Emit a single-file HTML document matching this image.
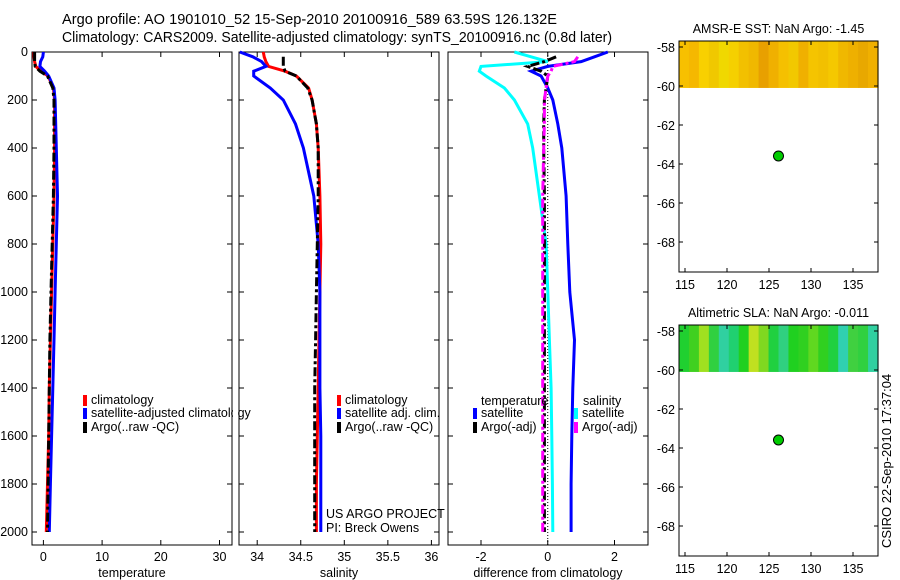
<!DOCTYPE html>
<html><head><meta charset="utf-8"><style>
body{margin:0;background:#fff}
svg{display:block;font-family:"Liberation Sans",sans-serif}
</style></head><body>
<svg id="c" width="900" height="580" viewBox="0 0 900 580">
<text x="62" y="24" font-size="14.3" textLength="495" lengthAdjust="spacingAndGlyphs">Argo profile: AO 1901010_52 15-Sep-2010 20100916_589 63.59S 126.132E</text>
<text x="62" y="42" font-size="14.3" textLength="550" lengthAdjust="spacingAndGlyphs">Climatology: CARS2009. Satellite-adjusted climatology: synTS_20100916.nc (0.8d later)</text>
<g id="plots"></g>
<text transform="translate(891,548) rotate(-90)" font-size="13">CSIRO 22-Sep-2010 17:37:04</text>
</svg>
<script>
// ---- data ----
const depths = [0,20,40,60,80,100,150,200,300,400,600,800,1000,1200,1400,1600,1800,2000];
const tempClim = [-1.6,-1.6,-1.5,-1.3,-0.4,0.8,1.7,1.9,1.9,1.9,1.8,1.6,1.4,1.2,1.0,0.9,0.7,0.5];
const tempSat  = [0.0,-0.1,-0.5,-0.6,0.2,0.9,1.8,2.0,2.1,2.2,2.4,2.2,2.0,1.8,1.6,1.4,1.2,1.0];
const tempArgo = [-1.5,-1.5,-1.5,-1.4,-0.6,0.7,1.6,1.8,1.8,1.8,1.7,1.5,1.3,1.1,1.0,0.9,0.8,0.7];
const salClim  = [34.07,34.08,34.1,34.13,34.32,34.45,34.59,34.63,34.68,34.7,34.72,34.73,34.72,34.71,34.7,34.69,34.68,34.68];
const salSat   = [33.8,33.95,34.05,34.1,33.96,33.96,34.15,34.3,34.44,34.53,34.65,34.7,34.72,34.72,34.72,34.73,34.73,34.73];
const salArgo  = [null,34.3,34.3,34.3,34.32,34.45,34.58,34.63,34.68,34.7,34.7,34.69,34.68,34.67,34.66,34.66,34.66,34.66];
const dTempSat = [1.8,1.4,1.0,0.0,-0.5,-0.2,0.0,0.15,0.3,0.42,0.55,0.6,0.66,0.8,0.75,0.72,0.7,0.7];
const dTempArgo= [null,0.25,-0.1,-0.6,-0.2,0.0,-0.05,-0.1,-0.12,-0.12,-0.1,-0.1,-0.1,-0.1,-0.1,-0.1,-0.1,-0.1];
const dSalSat  = [-1.0,-0.5,0.0,-2.0,-2.05,-1.85,-1.3,-1.0,-0.6,-0.45,-0.25,-0.05,0.0,0.05,0.1,0.12,0.14,0.15];
const dSalArgo = [null,0.9,0.8,0.15,0.1,0.0,-0.05,-0.1,-0.1,-0.12,-0.15,-0.15,-0.15,-0.15,-0.15,-0.15,-0.15,-0.15];
const depthTicks = [0,200,400,600,800,1000,1200,1400,1600,1800,2000];
const tempTicks = [0,10,20,30];
const salTicks = [34,34.5,35,35.5,36];
const diffTicks = [-2,0,2];
const latTicks = [-58,-60,-62,-64,-66,-68];
const lonTicks = [115,120,125,130,135];
const argoLon = [126.13];
const argoLat = [-63.59];

const NS='http://www.w3.org/2000/svg';
const G=document.getElementById('plots');
function mk(t,a,p){const e=document.createElementNS(NS,t);for(const k in a)e.setAttribute(k,a[k]);(p||G).appendChild(e);return e;}
const yD = d => 52 + d*0.24;
function xLin(v0,p0,v1,p1){return v=>p0+(v-v0)*(p1-p0)/(v1-v0);}

function panel(name,x0,x1,xf,ticks,xlabel,showY){
  const g=mk('g',{});
  
  
  mk('rect',{x:x0,y:52,width:x1-x0,height:493,fill:'none',stroke:'#000','stroke-width':1},g);
  ticks.forEach(t=>{const x=xf(t);
    mk('line',{x1:x,x2:x,y1:545,y2:540,stroke:'#000'},g);
    mk('line',{x1:x,x2:x,y1:52,y2:57,stroke:'#000'},g);
    const tx=mk('text',{x:x,y:561,'font-size':12.5,'text-anchor':'middle'},g);tx.textContent=String(t);
    
    
  });
  depthTicks.forEach(d=>{const y=yD(d);
    mk('line',{x1:x0,x2:x0+5,y1:y,y2:y,stroke:'#000'},g);
    mk('line',{x1:x1,x2:x1-5,y1:y,y2:y,stroke:'#000'},g);
    if(showY){const tx=mk('text',{x:x0-4,y:y+4,'font-size':12.5,'text-anchor':'end'},g);tx.textContent=String(d);
      
      }
  });
  const l=mk('text',{x:(x0+x1)/2,y:577,'font-size':12.5,'text-anchor':'middle'},g);l.textContent=xlabel;
  
  
  return g;
}
function series(g,xf,vals,color,name,dash){
  let pts=[];
  const segs=[];
  vals.forEach((v,i)=>{if(v===null){if(pts.length)segs.push(pts);pts=[];return;}pts.push(xf(v).toFixed(1)+','+yD(depths[i]).toFixed(1));});
  if(pts.length)segs.push(pts);
  segs.forEach(s=>{const e=mk('polyline',{points:s.join(' '),fill:'none',stroke:color,'stroke-width':3});
    if(dash)e.setAttribute('stroke-dasharray',dash);
    
    
    g.appendChild(e);});
}
function legend(g,x,y,color,label){
  mk('rect',{x:x,y:y-9,width:4,height:11,fill:color},g);
  const t=mk('text',{x:x+8,y:y,'font-size':12.5},g);t.textContent=label;
  
  
}
const DASH='9,3,3,3';
const xT=xLin(0,43.4,30,219.5);
const p1=panel('temperature-panel',32,232,xT,tempTicks,'temperature',true);
series(p1,xT,tempClim,'#f00','temp-climatology-line');
series(p1,xT,tempSat,'#00f','temp-satellite-line');
series(p1,xT,tempArgo,'#000','temp-argo-line',DASH);
legend(p1,83,404,'#f00','climatology');
legend(p1,83,417,'#00f','satellite-adjusted climatology');
legend(p1,83,431,'#000','Argo(..raw -QC)');
mk('rect',{x:233,y:395,width:5,height:40,fill:'#fff'},p1);
const xS=xLin(34,257.2,36,431.4);
const p2=panel('salinity-panel',239,439,xS,salTicks,'salinity',false);
series(p2,xS,salClim,'#f00','sal-climatology-line');
series(p2,xS,salSat,'#00f','sal-satellite-line');
series(p2,xS,salArgo,'#000','sal-argo-line',DASH);
legend(p2,337,404,'#f00','climatology');
legend(p2,337,417,'#00f','satellite adj. clim.');
legend(p2,337,431,'#000','Argo(..raw -QC)');
const u1=mk('text',{x:326,y:518,'font-size':12.5},p2);u1.textContent='US ARGO PROJECT';

const u2=mk('text',{x:326,y:532,'font-size':12.5},p2);u2.textContent='PI: Breck Owens';

const xF=xLin(-2,481,2,614.5);
const p3=panel('difference-panel',448,648,xF,diffTicks,'difference from climatology',false);
mk('line',{x1:xF(0),x2:xF(0),y1:52,y2:545,stroke:'#000','stroke-dasharray':'1,2'},p3);
series(p3,xF,dSalSat,'#0ff','dsal-satellite-line');
series(p3,xF,dTempSat,'#00f','dtemp-satellite-line');
series(p3,xF,dTempArgo,'#000','dtemp-argo-line',DASH);
series(p3,xF,dSalArgo,'#f0f','dsal-argo-line',DASH);
const lt=mk('text',{x:481,y:405,'font-size':12.5},p3);lt.textContent='temperature';

const ls=mk('text',{x:583,y:405,'font-size':12.5},p3);ls.textContent='salinity';

legend(p3,473,417,'#00f','satellite');
legend(p3,473,431,'#000','Argo(-adj)');
legend(p3,574,417,'#0ff','satellite');
legend(p3,574,431,'#f0f','Argo(-adj)');

function map(name,top,title,cols){
  const g=mk('g',{});
  
  
  const x0=679,x1=878,h=231;
  const lonF=xLin(115,685,135,853);
  const latF=v=>top+6+(-58-v)*19.5;
  const bandH=latF(-60.1)-top;
  const cw=(x1-x0)/cols.length;
  cols.forEach((c,i)=>{mk('rect',{x:x0+i*cw,y:top,width:cw+0.6,height:bandH,fill:c},g);});
  mk('rect',{x:x0,y:top,width:x1-x0,height:h,fill:'none',stroke:'#000'},g);
  const t=mk('text',{x:(x0+x1)/2,y:top-8,'font-size':12.5,'text-anchor':'middle'},g);t.textContent=title;
  
  latTicks.forEach(v=>{const y=latF(v);
    mk('line',{x1:x0,x2:x0+4,y1:y,y2:y,stroke:'#000'},g);mk('line',{x1:x1,x2:x1-4,y1:y,y2:y,stroke:'#000'},g);
    const tx=mk('text',{x:x0-4,y:y+5,'font-size':12.5,'text-anchor':'end'},g);tx.textContent=String(v);
    });
  lonTicks.forEach(v=>{const x=lonF(v);
    mk('line',{x1:x,x2:x,y1:top+h,y2:top+h-4,stroke:'#000'},g);mk('line',{x1:x,x2:x,y1:top,y2:top+4,stroke:'#000'},g);
    const tx=mk('text',{x:x,y:top+h+17,'font-size':12.5,'text-anchor':'middle'},g);tx.textContent=String(v);
    });
  argoLon.forEach((lo,i)=>{const d=mk('circle',{cx:lonF(lo),cy:latF(argoLat[i]),r:5,fill:'#0c0',stroke:'#000'},g);
    });
}
map('sst-map',41,'AMSR-E SST: NaN Argo: -1.45',['#f7c000','#f5b800','#f8d000','#f0c800','#f0d800','#f5d000','#f2c000','#f0b800','#e8a000','#f0b000','#f5c000','#f2c800','#f0b000','#f5c400','#f2c000','#f5c800','#f0b800','#eeb000','#e8a800','#f0b000']);
map('sla-map',325,'Altimetric SLA: NaN Argo: -0.011',['#20d030','#40d020','#a0e020','#30d040','#30d0a0','#20d070','#20d020','#c0e020','#80d820','#20d040','#30d080','#20d020','#30d020','#60d820','#30d020','#20d040','#30d0b0','#40d040','#30d040','#30d0a0']);
</script>
</body></html>
